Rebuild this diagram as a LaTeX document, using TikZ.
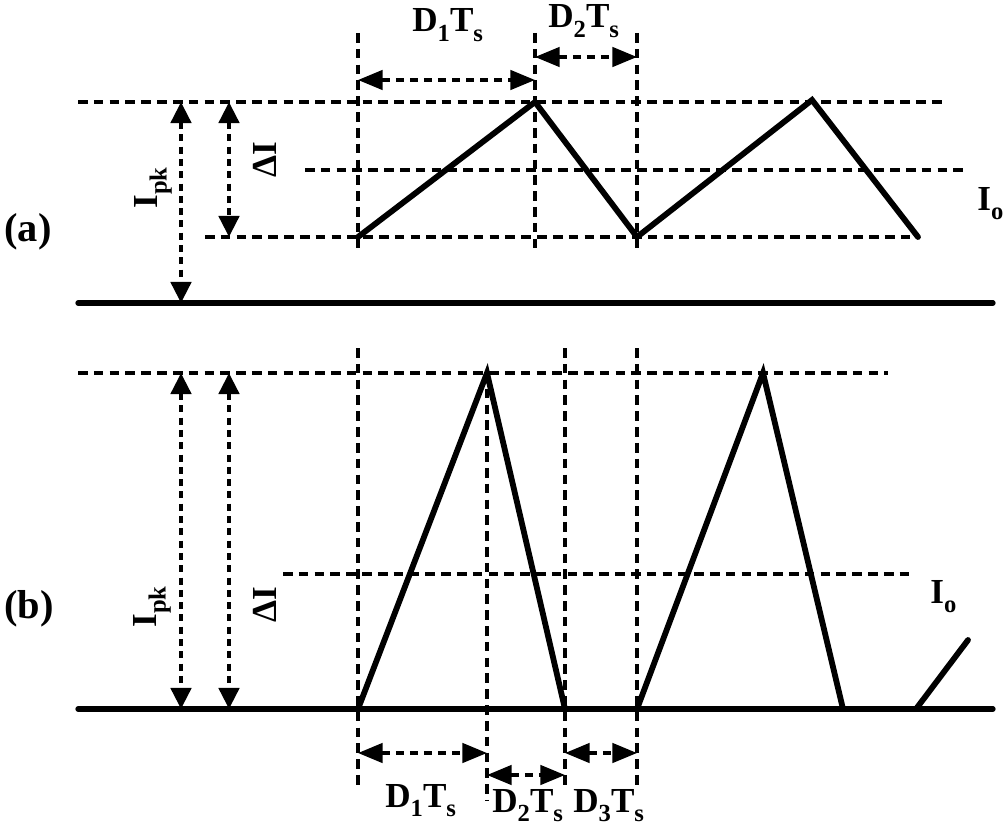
\documentclass[tikz,border=0pt]{standalone}
\usepackage{fontspec}
\setmainfont{Liberation Serif}
\usetikzlibrary{arrows.meta}
\newcommand{\lsub}[1]{\raisebox{-5.5pt}{\fontsize{14}{14}\selectfont\bfseries #1}}
\tikzset{
  wave/.style={line width=3.3pt, line join=miter, line cap=round},
  ground/.style={line width=3pt, line cap=round},
  guide/.style={line width=1.8pt, dash pattern=on 5.5pt off 3.5pt},
  dimh/.style={line width=2pt, dash pattern=on 4.5pt off 3.5pt,
    {Triangle[length=14pt,width=11pt]}-{Triangle[length=14pt,width=11pt]}},
  dimv/.style={line width=2.4pt, dash pattern=on 4pt off 3pt,
    {Triangle[length=12pt,width=11.5pt]}-{Triangle[length=12pt,width=11.5pt]}},
  lab/.style={font=\fontsize{20}{20}\selectfont\bfseries, inner sep=0pt},
  tag/.style={font=\fontsize{23}{23}\selectfont\bfseries, inner sep=0pt},
}
\begin{document}
\begin{tikzpicture}[x=0.02cm,y=-0.02cm]
\useasboundingbox (0,0) rectangle (1006,828);

% ---------------- (a) ----------------
\coordinate (aTL) at (78,102);  \coordinate (aTR) at (945,102);
\coordinate (aOL) at (305,170); \coordinate (aOR) at (968,170);
\coordinate (aBL) at (205,237); \coordinate (aBR) at (918,237);
\coordinate (aG1) at (78,303);  \coordinate (aG2) at (993,303);
\coordinate (aw1) at (358,237); \coordinate (aw2) at (535,102);
\coordinate (aw3) at (637,237); \coordinate (aw4) at (812,100);
\coordinate (aw5) at (918,237);
\coordinate (av1t) at (358,33); \coordinate (av1b) at (358,252);
\coordinate (av2t) at (535,33); \coordinate (av2b) at (535,252);
\coordinate (av3t) at (637,33); \coordinate (av3b) at (637,252);
\coordinate (ad1a) at (358,80); \coordinate (ad1b) at (535,80);
\coordinate (ad2a) at (535,57); \coordinate (ad2b) at (637,57);
\coordinate (apk1) at (181,102); \coordinate (apk2) at (181,303);
\coordinate (adi1) at (229,102); \coordinate (adi2) at (229,237);

\draw[guide] (aTL) -- (aTR);
\draw[guide] (aOL) -- (aOR);
\draw[guide] (aBL) -- (aBR);
\draw[guide] (av1t) -- (av1b);
\draw[guide] (av2t) -- (av2b);
\draw[guide] (av3t) -- (av3b);
\draw[ground] (aG1) -- (aG2);
\draw[wave] (aw1) -- (aw2) -- (aw3) -- (aw4) -- (aw5);
\draw[dimh] (ad1a) -- (ad1b);
\draw[dimh] (ad2a) -- (ad2b);
\draw[dimv] (apk1) -- (apk2);
\draw[dimv] (adi1) -- (adi2);

\node[lab, anchor=base west] (aD1) at (412,32) {D\lsub{1}T\lsub{s}};
\node[lab, anchor=base west] (aD2) at (548,28) {D\lsub{2}T\lsub{s}};
\node[tag, anchor=base west] (atag) at (4,241) {(a)};
\node[lab, anchor=base west] (aIo) at (977,210) {I\lsub{o}};
\node[lab, rotate=90] (aIpk) at (153,188) {I\lsub{pk}};
\node[lab, rotate=90] (adI) at (265,160) {ΔI};

% ---------------- (b) ----------------
\coordinate (bTL) at (78,373);  \coordinate (bTR) at (888,373);
\coordinate (bOL) at (283,574); \coordinate (bOR) at (910,574);
\coordinate (bG1) at (78,709);  \coordinate (bG2) at (993,709);
\coordinate (bw1) at (358,709); \coordinate (bw2) at (487,373);
\coordinate (bw3) at (565,709); \coordinate (bw4) at (637,709);
\coordinate (bw5) at (763,373); \coordinate (bw6) at (843,709);
\coordinate (bw7) at (916,709); \coordinate (bw8) at (968,640);
\coordinate (bv1t) at (358,348); \coordinate (bv1b) at (358,790);
\coordinate (bv2t) at (487,373); \coordinate (bv2b) at (487,800);
\coordinate (bv3t) at (565,348); \coordinate (bv3b) at (565,790);
\coordinate (bv4t) at (637,348); \coordinate (bv4b) at (637,790);
\coordinate (bd1a) at (358,753); \coordinate (bd1b) at (487,753);
\coordinate (bd2a) at (487,775); \coordinate (bd2b) at (565,775);
\coordinate (bd3a) at (565,753); \coordinate (bd3b) at (637,753);
\coordinate (bpk1) at (181,373); \coordinate (bpk2) at (181,709);
\coordinate (bdi1) at (229,373); \coordinate (bdi2) at (229,709);

\draw[guide] (bTL) -- (bTR);
\draw[guide] (bOL) -- (bOR);
\draw[guide] (bv1t) -- (bv1b);
\draw[guide] (bv2t) -- (bv2b);
\draw[guide] (bv3t) -- (bv3b);
\draw[guide] (bv4t) -- (bv4b);
\draw[ground] (bG1) -- (bG2);
\draw[wave] (bw1) -- (bw2) -- (bw3);
\draw[wave] (bw4) -- (bw5) -- (bw6);
\draw[wave] (bw7) -- (bw8);
\draw[dimh] (bd1a) -- (bd1b);
\draw[dimh] (bd2a) -- (bd2b);
\draw[dimh] (bd3a) -- (bd3b);
\draw[dimv] (bpk1) -- (bpk2);
\draw[dimv] (bdi1) -- (bdi2);

\node[lab, anchor=base west] (bD1) at (385,807) {D\lsub{1}T\lsub{s}};
\node[lab, anchor=base west] (bD2) at (492,812) {D\lsub{2}T\lsub{s}};
\node[lab, anchor=base west] (bD3) at (573,812) {D\lsub{3}T\lsub{s}};
\node[tag, anchor=base west] (btag) at (4,618) {(b)};
\node[lab, anchor=base west] (bIo) at (930,603) {I\lsub{o}};
\node[lab, rotate=90] (bIpk) at (152,607) {I\lsub{pk}};
\node[lab, rotate=90] (bdI) at (265,605) {ΔI};
\end{tikzpicture}
\end{document}
